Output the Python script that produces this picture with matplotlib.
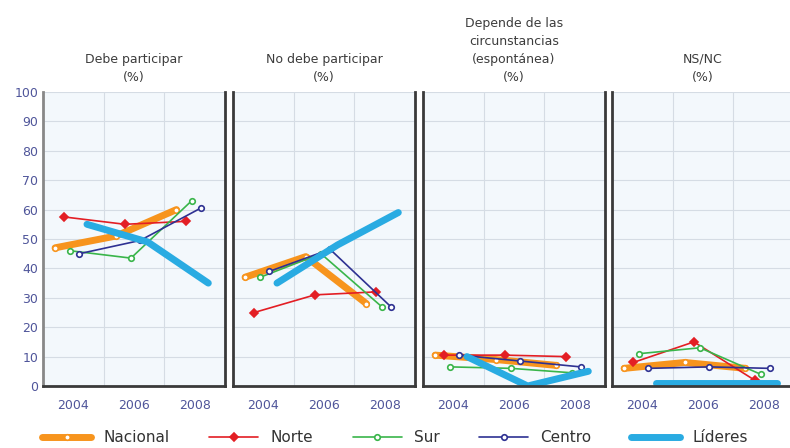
import matplotlib.pyplot as plt

# survey years and panel titles
years = [2004, 2006, 2008]
titles = ['Debe participar\n(%)', 'No debe participar\n(%)',
          'Depende de las\ncircunstancias\n(espontánea)\n(%)', 'NS/NC\n(%)']

# one list per panel
nacional = [[47, 51, 60], [37, 44, 28], [10.5, 9, 7], [6, 8, 6]]
norte = [[57.5, 55, 56], [25, 31, 32], [10.5, 10.5, 10], [8, 15, 2]]
sur = [[46, 43.5, 63], [37, 45, 27], [6.5, 6, 4.5], [11, 13, 4]]
centro = [[45, 49.5, 60.5], [39, 46.5, 27], [10.5, 8.5, 6.5], [6, 6.5, 6]]
lideres = [[55, 49, 35], [35, 48, 59], [10, 0, 5], [1, 1, 1]]

series = [
    ('Nacional', nacional, '#F7941D', 5, 'o', 'none', -0.6),
    ('Norte', norte, '#E31E24', 1.2, 'D', '#E31E24', -0.3),
    ('Sur', sur, '#39B54A', 1.2, 'o', 'none', -0.1),
    ('Centro', centro, '#2E3192', 1.2, 'o', 'none', 0.2),
    ('Líderes', lideres, '#29ABE2', 5, None, 'none', 0.45),
]

fig = plt.figure(figsize=(7.9, 4.48), dpi=100)
tick_col = '#4F559A'
lefts = [43, 233, 423, 612]
axes = []
for p in range(4):
    ax = fig.add_axes([lefts[p] / 790, 62 / 448, 182 / 790, 294 / 448])
    ax.set_facecolor('#F3F8FC')
    for name, vals, col, lw, mk, mfc, off in series:
        xs = [y + off for y in years]
        ax.plot(xs, vals[p], color=col, lw=lw, marker=mk, ms=4,
                mfc=mfc if mfc != 'none' else 'white', mec=col, mew=1.2,
                solid_capstyle='round', label=name)
    ax.set_xlim(2003, 2009)
    ax.set_ylim(0, 100)
    ax.set_xticks(years)
    ax.set_yticks(range(0, 101, 10))
    ax.set_xticks([2005, 2007], minor=True)
    ax.grid(which='major', axis='y', color='#D5DCE4', lw=0.8)
    ax.grid(which='minor', axis='x', color='#D5DCE4', lw=0.8)
    ax.tick_params(axis='x', which='both', length=0, colors=tick_col, labelsize=9, pad=9)
    ax.tick_params(axis='y', length=0, colors=tick_col, labelsize=9)
    if p > 0:
        ax.set_yticklabels([])
    ax.spines['top'].set_visible(False)
    for s in ['left', 'right', 'bottom']:
        ax.spines[s].set_color('#3A3A3A')
        ax.spines[s].set_linewidth(2)
    if p == 0:
        ax.spines['left'].set_color('#888888')
    ax.set_title(titles[p], fontsize=9, color='#3C3C3C', pad=8, linespacing=1.5)
    axes.append(ax)

handles, labels = axes[0].get_legend_handles_labels()
fig.legend(handles, labels, loc='lower center', ncol=5, frameon=False,
           fontsize=11, bbox_to_anchor=(0.5, -0.025), handlelength=3.2,
           columnspacing=2.6, labelcolor='#333333')

fig.savefig('out.png', dpi=100)
